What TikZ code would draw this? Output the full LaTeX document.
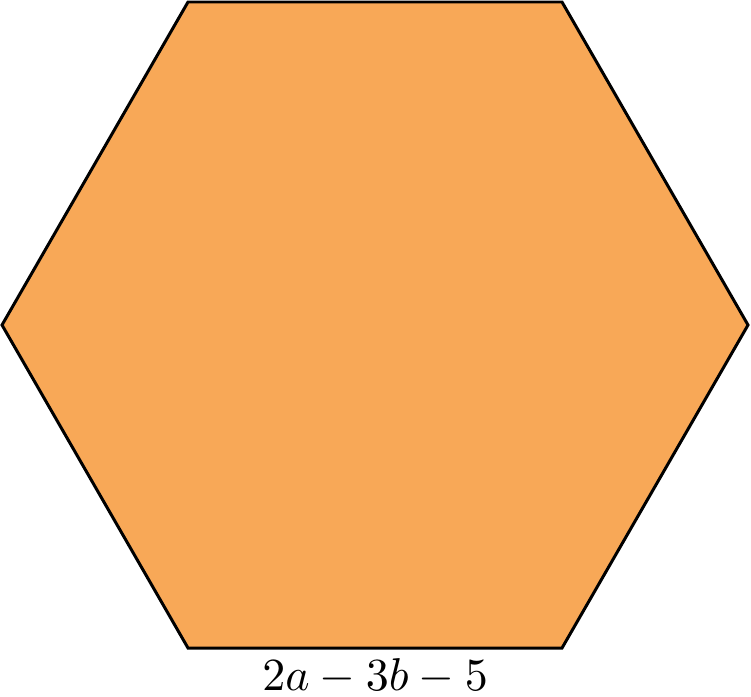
\documentclass[tikz,border=0pt]{standalone}
\definecolor{hexfill}{RGB}{248,168,87}
\begin{document}
\begin{tikzpicture}[x=0.2174pt,y=-0.2174pt,
  hexstyle/.style={draw=black,fill=hexfill,line width=0.65pt,line join=miter}]
\useasboundingbox (0,0) rectangle (751,696);
\coordinate (v1) at (188,2);
\coordinate (v2) at (562,2);
\coordinate (v3) at (748,325);
\coordinate (v4) at (562,648);
\coordinate (v5) at (188,648);
\coordinate (v6) at (2,325);
\path[hexstyle] (v1) -- (v2) -- (v3) -- (v4) -- (v5) -- (v6) -- cycle;
\node[anchor=base,inner sep=0pt] (lbl) at (375,690) {$2a-3b-5$};
\end{tikzpicture}
\end{document}
